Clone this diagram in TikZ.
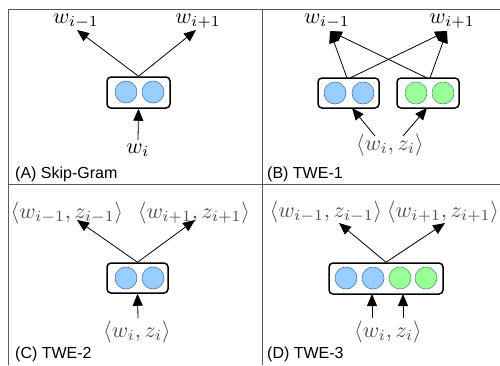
\documentclass[tikz,border=0pt]{standalone}
\usepackage{fontspec}
\newfontfamily\capfont{Liberation Sans}
\usetikzlibrary{arrows.meta}
\definecolor{cblue}{HTML}{99CCFF}
\definecolor{cbluedk}{HTML}{4A78B8}
\definecolor{cgreen}{HTML}{99FF99}
\definecolor{cgreendk}{HTML}{5A9A6A}
\begin{document}
\begin{tikzpicture}[x=1pt,y=-1pt,
  frame/.style={draw=black!65, line width=1pt},
  unitbox/.style={draw=black, line width=1.5pt, rounded corners=4pt, inner sep=0pt},
  bluec/.style={circle, draw=cbluedk, line width=0.6pt, fill=cblue, minimum size=22pt, inner sep=0pt},
  greenc/.style={circle, draw=cgreendk, line width=0.6pt, fill=cgreen, minimum size=22pt, inner sep=0pt},
  arr/.style={-{Triangle[length=12pt,width=10pt]}, line width=0.8pt},
  wlab/.style={inner sep=0pt, scale=2.2},
  glab/.style={inner sep=0pt, scale=2.2, text=black!70},
  caplab/.style={font=\capfont\fontsize{16}{19}\selectfont, anchor=base west, inner sep=0pt}
]
\useasboundingbox (0,0) rectangle (500,365);
% frame
\draw[frame] (8,365) -- (8,9) -- (500,9);
\draw[frame] (262,9) -- (262,365);
\draw[frame] (8,184) -- (500,184);

% ---------- (A) ----------
\node[unitbox, minimum width=63pt, minimum height=31pt] (boxA) at (138.5,92.5) {};
\node[bluec] (a1) at (126,92) {};
\node[bluec] (a2) at (153,92) {};
\node[wlab] (wA1) at (76,21) {$w_{i-1}$};
\node[wlab] (wA2) at (198,21) {$w_{i+1}$};
\node[wlab] (wA0) at (138,150) {$w_i$};
\coordinate (tA1) at (77,30);
\coordinate (tA2) at (196,30);
\coordinate (sA) at (138,140);
\draw[arr] (boxA.north) -- (tA1);
\draw[arr] (boxA.north) -- (tA2);
\draw[arr] (sA) -- (boxA.south);
\node[caplab] (capA) at (15,178) {(A) Skip-Gram};

% ---------- (B) ----------
\node[unitbox, minimum width=61pt, minimum height=30pt] (boxB1) at (348.5,93) {};
\node[unitbox, minimum width=62pt, minimum height=30pt] (boxB2) at (428,93) {};
\node[bluec] (b1) at (335,93) {};
\node[bluec] (b2) at (363,93) {};
\node[greenc] (b3) at (416,93) {};
\node[greenc] (b4) at (443,93) {};
\node[wlab] (wB1) at (327,21) {$w_{i-1}$};
\node[wlab] (wB2) at (452,21) {$w_{i+1}$};
\node[glab] (wzB) at (390,145) {$\langle w_i, z_i\rangle$};
\coordinate (tB1) at (330,31);
\coordinate (tB2) at (447,31);
\coordinate (oB1a) at (347,78);
\coordinate (oB1b) at (350,78);
\coordinate (oB2a) at (427,78);
\coordinate (oB2b) at (430,78);
\draw[arr] (oB1a) -- (tB1);
\draw[arr] (oB1b) -- (tB2);
\draw[arr] (oB2a) -- (tB1);
\draw[arr] (oB2b) -- (tB2);
\coordinate (sB1) at (375,136);
\coordinate (sB2) at (403,136);
\coordinate (eB1) at (352,108);
\coordinate (eB2) at (427,108);
\draw[arr] (sB1) -- (eB1);
\draw[arr] (sB2) -- (eB2);
\node[caplab] (capB) at (267,178) {(B) TWE-1};

% ---------- (C) ----------
\node[unitbox, minimum width=61pt, minimum height=30pt] (boxC) at (137.5,278) {};
\node[bluec] (c1) at (126,278) {};
\node[bluec] (c2) at (153,278) {};
\node[glab] (wzC1) at (67,213) {$\langle w_{i-1}, z_{i-1}\rangle$};
\node[glab] (wzC2) at (194,213) {$\langle w_{i+1}, z_{i+1}\rangle$};
\node[glab] (wzC0) at (137,332) {$\langle w_i, z_i\rangle$};
\coordinate (tC1) at (77,220);
\coordinate (tC2) at (195,220);
\coordinate (sC) at (138,318);
\draw[arr] (boxC.north) -- (tC1);
\draw[arr] (boxC.north) -- (tC2);
\draw[arr] (sC) -- (boxC.south);
\node[caplab] (capC) at (15,358) {(C) TWE-2};

% ---------- (D) ----------
\node[unitbox, minimum width=114pt, minimum height=31pt] (boxD) at (386,278.5) {};
\node[bluec] (d1) at (346,278) {};
\node[bluec] (d2) at (373,278) {};
\node[greenc] (d3) at (400,278) {};
\node[greenc] (d4) at (426,278) {};
\node[glab] (wzD1) at (326,212) {$\langle w_{i-1}, z_{i-1}\rangle$};
\node[glab] (wzD2) at (443,212) {$\langle w_{i+1}, z_{i+1}\rangle$};
\node[glab] (wzD0) at (388,332) {$\langle w_i, z_i\rangle$};
\coordinate (tD1) at (339,223);
\coordinate (tD2) at (445,223);
\draw[arr] (boxD.north) -- (tD1);
\draw[arr] (boxD.north) -- (tD2);
\coordinate (sD1) at (372,318);
\coordinate (sD2) at (403,318);
\coordinate (eD1) at (372,294);
\coordinate (eD2) at (403,294);
\draw[arr] (sD1) -- (eD1);
\draw[arr] (sD2) -- (eD2);
\node[caplab] (capD) at (267,358) {(D) TWE-3};
\end{tikzpicture}
\end{document}
